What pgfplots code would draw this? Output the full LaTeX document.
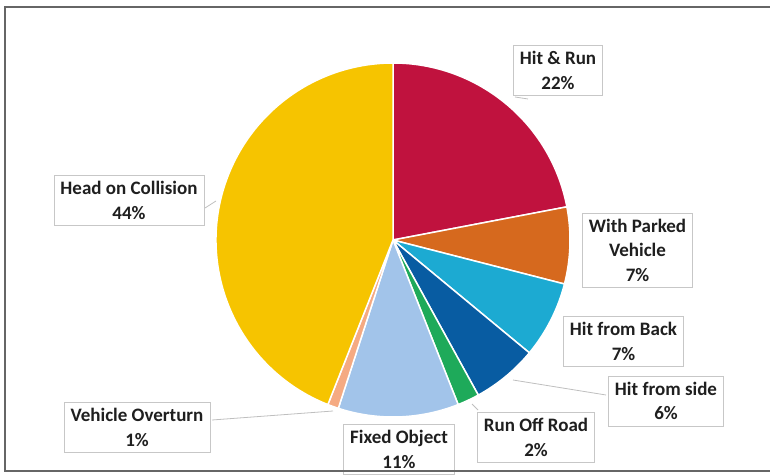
\documentclass[border=0pt]{standalone}
\usepackage{pgfplots}
\pgfplotsset{compat=1.18}
\usepackage{pgfplotstable}
\usepackage{fontspec}
\setmainfont{Carlito}
\definecolor{slice0}{RGB}{192,18,62}
\definecolor{slice1}{RGB}{214,105,30}
\definecolor{slice2}{RGB}{28,170,210}
\definecolor{slice3}{RGB}{8,92,162}
\definecolor{slice4}{RGB}{30,170,90}
\definecolor{slice5}{RGB}{162,196,234}
\definecolor{slice6}{RGB}{245,170,130}
\definecolor{slice7}{RGB}{246,196,0}
\pgfplotstableread{
share
22
7
7
6
2
11
1
44
}\piedata
\begin{document}
\begin{tikzpicture}[lbl/.style={draw=black!22, fill=white, align=center, inner xsep=6.5pt, inner ysep=6pt, text=black!88, font=\fontsize{19}{24.5}\selectfont\bfseries},
  lead/.style={draw=black!25, line width=0.8pt}]
\useasboundingbox (0,0) rectangle (770pt,474pt);
\begin{axis}[width=770pt,height=474pt,scale only axis,xmin=0,xmax=770,ymin=0,ymax=474,hide axis,clip=false,anchor=south west,at={(0,0)}]
\def\cum{0}
\pgfplotsforeachungrouped \i in {0,...,7}{%
  \pgfplotstablegetelem{\i}{share}\of\piedata
  \pgfmathsetmacro{\sa}{90-3.6*\cum}%
  \pgfmathsetmacro{\ea}{90-3.6*(\cum+\pgfplotsretval)}%
  \pgfmathsetmacro{\cum}{\cum+\pgfplotsretval}%
  \edef\temp{\noexpand\fill[slice\i, draw=white, line width=1.5pt, line join=round] (axis cs:393,234) -- ++(\sa:177pt) arc[start angle=\sa, end angle=\ea, radius=177pt] -- cycle;}%
  \temp
}
% leader lines
\draw[lead] (axis cs:212,54) -- (axis cs:333,63);
\draw[lead] (axis cs:606,79) -- (axis cs:513,94);
\draw[lead] (axis cs:478,64) -- (axis cs:472,70);
\draw[lead] (axis cs:205,266) -- (axis cs:216,273);
\draw[lead] (axis cs:515,377) -- (axis cs:528,375);
% labels
\node[lbl] at (axis cs:558,403.5) {Hit \& Run\\22\%};
\node[lbl] at (axis cs:637.5,224) {With Parked\\Vehicle\\7\%};
\node[lbl] at (axis cs:623.5,132.5) {Hit from Back\\7\%};
\node[lbl] at (axis cs:666,73) {Hit from side\\6\%};
\node[lbl] at (axis cs:536,36.5) {Run Off Road\\2\%};
\node[lbl] at (axis cs:399,24.5) {Fixed Object\\11\%};
\node[lbl] at (axis cs:137,46.5) {Vehicle Overturn\\1\%};
\node[lbl] at (axis cs:129,273.5) {Head on Collision\\44\%};
% frame
\draw[black!60, line width=2pt] (axis cs:770,467) -- (axis cs:5,467) -- (axis cs:5,3) -- (axis cs:770,3);
\end{axis}
\end{tikzpicture}
\end{document}
